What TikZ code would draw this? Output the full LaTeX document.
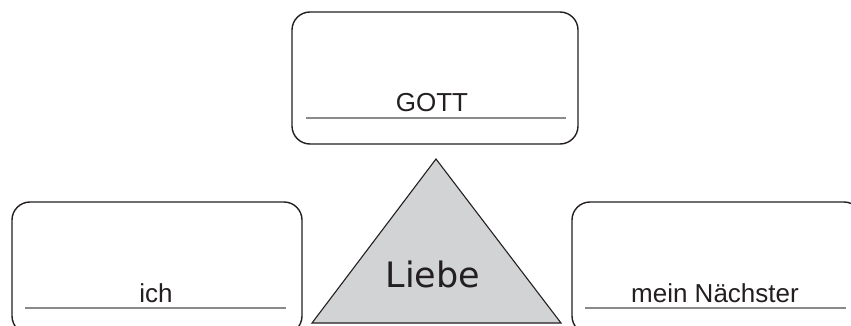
\documentclass[tikz,border=0pt]{standalone}
\usepackage{fontspec}
\setmainfont{Liberation Sans}
\newfontfamily\liebefont{DejaVu Sans}
\definecolor{inkgray}{HTML}{231F20}
\definecolor{rulegray}{HTML}{8A8A8A}
\definecolor{trifill}{HTML}{D1D3D4}
\begin{document}
\begin{tikzpicture}[x=1pt,y=-1pt,
  box/.style={draw=inkgray, line width=1.4pt, rounded corners=18pt, inner sep=0pt},
  rule/.style={draw=rulegray, line width=1.1pt},
  label/.style={anchor=base, text=inkgray, font=\fontsize{26}{30}\selectfont, inner sep=0pt}]
  \useasboundingbox (0,0) rectangle (851,326);
  \clip (0,0) rectangle (851,326);
  % boxes
  \node[box, minimum width=286pt, minimum height=132pt] (gott) at (435,78) {};
  \node[box, minimum width=290pt, minimum height=132pt] (ich) at (157,268) {};
  \node[box, minimum width=290pt, minimum height=132pt] (next) at (717,268) {};
  % writing lines
  \coordinate (g1) at (306,118); \coordinate (g2) at (566,118);
  \coordinate (i1) at (25,308);  \coordinate (i2) at (286,308);
  \coordinate (n1) at (585,308); \coordinate (n2) at (846,308);
  \draw[rule] (g1) -- (g2);
  \draw[rule] (i1) -- (i2);
  \draw[rule] (n1) -- (n2);
  % labels
  \node[label] (tgott) at (432,112) {GOTT};
  \node[label] (tich) at (156,302) {ich};
  \node[label] (tnext) at (715,302) {mein Nächster};
  % triangle
  \coordinate (apex) at (436,159);
  \coordinate (bl) at (312,323);
  \coordinate (br) at (561,323);
  \draw[fill=trifill, draw=inkgray, line width=1.1pt, line join=miter] (apex) -- (br) -- (bl) -- cycle;
  \node[anchor=base, text=inkgray, font=\liebefont\fontsize{35}{40}\selectfont, inner sep=0pt] (liebe) at (433,287) {Liebe};
\end{tikzpicture}
\end{document}
